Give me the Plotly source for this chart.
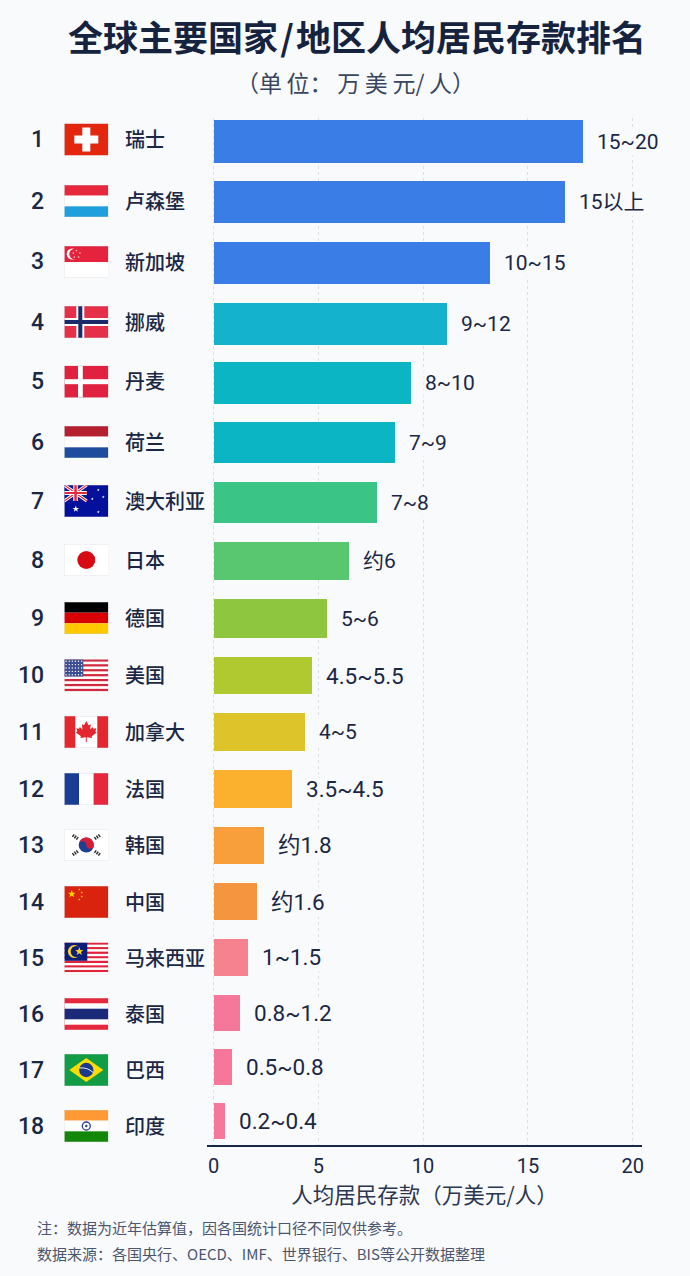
import math
import plotly.graph_objects as go

# Datos
rank = list(range(1, 19))
countries = ['瑞士', '卢森堡', '新加坡', '挪威', '丹麦', '荷兰', '澳大利亚', '日本', '德国',
             '美国', '加拿大', '法国', '韩国', '中国', '马来西亚', '泰国', '巴西', '印度']
codes = ['ch', 'lu', 'sg', 'no', 'dk', 'nl', 'au', 'jp', 'de',
         'us', 'ca', 'fr', 'kr', 'cn', 'my', 'th', 'br', 'in']
deposits = [17.64, 16.75, 13.19, 11.14, 9.42, 8.66, 7.80, 6.46, 5.41,
            4.68, 4.35, 3.76, 2.42, 2.07, 1.66, 1.25, 0.90, 0.56]
value_labels = ['15~20', '15以上', '10~15', '9~12', '8~10', '7~9', '7~8', '约6', '5~6',
                '4.5~5.5', '4~5', '3.5~4.5', '约1.8', '约1.6', '1~1.5', '0.8~1.2', '0.5~0.8', '0.2~0.4']
x_ticks = [0, 5, 10, 15, 20]

# Estilo: el eje y esta en pixeles de la pagina porque las filas no son regulares
bar_colors = ['#3a7de6', '#3a7de6', '#3a7de6', '#14b2cc', '#0cb5c4', '#0cb5c4', '#3ac486', '#58c76f', '#8fc63f',
              '#b1c930', '#dcc42a', '#fbb12e', '#f89e3a', '#f6953f', '#f6828f', '#f5789a', '#f5789a', '#f5789a']
bar_y = [141.7, 202.2, 263, 324, 383, 442.8, 502.5, 561, 618.7,
         675.7, 732, 789, 845.3, 901.7, 957.3, 1013, 1067, 1121]
bar_h = [42.5, 42.5, 42.5, 42, 41.4, 41, 40.4, 38.6, 38.7,
         37.3, 37.4, 37.7, 37.3, 36.7, 36.7, 36.6, 36.3, 36]
row_y = [139.5, 201, 262, 322, 381.7, 442, 501, 560, 618,
         675.3, 732, 789, 845, 902, 958.5, 1014, 1070, 1126]

W, H = 690, 1276
L, R = 207, 642
TOP, BOTTOM = 118, 1145
PX_PER_UNIT = 20.96
INK = '#1a2745'
BG = '#f9fafc'
FONT = 'Roboto, "Noto Sans CJK SC", sans-serif'
CJK = '"Noto Sans CJK SC", sans-serif'


def star(cx, cy, r, fill):
    pts = []
    for i in range(10):
        a = -math.pi / 2 + i * math.pi / 5
        rr = r if i % 2 == 0 else r * 0.4
        pts.append(f'{cx + rr * math.cos(a):.2f},{cy + rr * math.sin(a):.2f}')
    return f'<polygon points="{" ".join(pts)}" fill="{fill}"/>'


def rect(x, y, w, h, fill):
    return f'<rect x="{x}" y="{y}" width="{w}" height="{h}" fill="{fill}"/>'


def bands(*cols):
    h = 32 / len(cols)
    return ''.join(rect(0, i * h, 44, h, c) for i, c in enumerate(cols))


def stripes(a, b, n):
    h = 32 / n
    return ''.join(rect(0, i * h, 44, h, a if i % 2 == 0 else b) for i in range(n))


def us_canton():
    s = rect(0, 0, 19, 17.2, '#3c4f92')
    for r in range(5):
        for c in range(6):
            s += f'<circle cx="{1.8 + c * 3.1}" cy="{1.9 + r * 3.4}" r="0.7" fill="#fff"/>'
    return s


def trigram(cx, cy, ang):
    s = f'<g transform="rotate({ang} {cx} {cy})">'
    for dy in (-2.4, 0, 2.4):
        s += rect(cx - 1.6, cy + dy - 0.7, 3.2, 1.4, '#222')
    return s + '</g>'


union = (rect(0, 0, 22.5, 16, '#0b1a8f')
         + '<path d="M0 0L22.5 16M22.5 0L0 16" stroke="#fff" stroke-width="3"/>'
         + '<path d="M0 0L22.5 16M22.5 0L0 16" stroke="#e6283c" stroke-width="1.1"/>'
         + rect(9, 0, 4.5, 16, '#fff') + rect(0, 6, 22.5, 4, '#fff')
         + rect(10, 0, 2.5, 16, '#e6283c') + rect(0, 7, 22.5, 2, '#e6283c'))
leaf = ('<path d="M22 5L24.3 9.2L26.5 8.2L25.8 13.4L28.5 11L29.2 12.8L32 12.2L31 15.6L32.4 16.4L27.4 20.2'
        'L27.9 22L22.5 21.3V26H21.5V21.3L16.1 22L16.6 20.2L11.6 16.4L13 15.6L12 12.2L14.8 12.8L15.5 11'
        'L18.2 13.4L17.5 8.2L19.7 9.2Z" fill="#e4262f"/>')

flags = {
    'ch': rect(0, 0, 44, 32, '#e3270f') + rect(18, 4, 8, 24, '#fff') + rect(10, 12, 24, 8, '#fff'),
    'lu': bands('#e6283c', '#fff', '#1f9fdc'),
    'sg': bands('#e6233c', '#fff') + '<circle cx="8" cy="8" r="5.6" fill="#fff"/><circle cx="10.2" cy="8" r="5.2" fill="#e6233c"/>'
          + ''.join(star(x, y, 1.1, '#fff') for x, y in [(12, 4.6), (15.6, 7), (14.4, 11), (10, 11), (9, 7)]),
    'no': rect(0, 0, 44, 32, '#e6304a') + rect(12, 0, 8, 32, '#fff') + rect(0, 12, 44, 8, '#fff')
          + rect(14, 0, 4, 32, '#1b2a6b') + rect(0, 14, 44, 4, '#1b2a6b'),
    'dk': rect(0, 0, 44, 32, '#e0213f') + rect(13.7, 0, 4.8, 32, '#fff') + rect(0, 13.5, 44, 5, '#fff'),
    'nl': bands('#b5202f', '#fff', '#1f4d9e'),
    'au': rect(0, 0, 44, 32, '#03109b') + union + star(11.5, 24, 3.4, '#fff')
          + ''.join(star(x, y, 1.5, '#fff') for x, y in [(34, 5), (39, 12), (28, 14), (34, 27)]),
    'jp': rect(0, 0, 44, 32, '#fff') + '<circle cx="22" cy="16" r="9" fill="#d60a12"/>',
    'de': bands('#000', '#d80000', '#ffc800'),
    'us': stripes('#d2293f', '#fff', 13) + us_canton(),
    'ca': rect(0, 0, 44, 32, '#fff') + rect(0, 0, 11, 32, '#e4262f') + rect(33, 0, 11, 32, '#e4262f') + leaf,
    'fr': rect(0, 0, 14.7, 32, '#1a3d94') + rect(14.7, 0, 14.6, 32, '#fff') + rect(29.3, 0, 14.7, 32, '#e6283c'),
    'kr': rect(0, 0, 44, 32, '#fff') + '<circle cx="22" cy="16" r="7.6" fill="#1e3f94"/>'
          + '<path d="M14.4 16A7.6 7.6 0 0 1 29.6 16A3.8 3.8 0 0 1 22 16A3.8 3.8 0 0 0 14.4 16Z" fill="#d81e36"/>'
          + trigram(11, 8, -55) + trigram(33, 8, 55) + trigram(11, 24, 55) + trigram(33, 24, -55),
    'cn': rect(0, 0, 44, 32, '#d9230f') + star(7.5, 8, 4, '#ffd800')
          + ''.join(star(x, y, 1.2, '#ffd800') for x, y in [(15, 3.5), (17.5, 6.5), (17.5, 10.5), (15, 13.5)]),
    'my': stripes('#e0243a', '#fff', 14) + rect(0, 0, 23, 18.3, '#0b1f7a')
          + '<circle cx="10" cy="9" r="6.4" fill="#ffd21f"/><circle cx="12" cy="9" r="5.6" fill="#0b1f7a"/>'
          + star(15, 9, 4.4, '#ffd21f'),
    'th': rect(0, 0, 44, 32, '#e6283c') + rect(0, 5.3, 44, 21.4, '#fff') + rect(0, 10.7, 44, 10.6, '#1b2a78'),
    'br': rect(0, 0, 44, 32, '#119c45') + '<polygon points="22,4 39,16 22,28 5,16" fill="#ffdc00"/>'
          + '<circle cx="22" cy="16" r="7.2" fill="#1a3a8f"/>'
          + '<path d="M15.2 14Q23 13 28.8 18.5" stroke="#fff" stroke-width="0.9" fill="none"/>',
    'in': bands('#ff9933', '#fff', '#138808') + '<circle cx="22" cy="16" r="4" fill="none" stroke="#2b3f9e" stroke-width="1.3"/>'
          + '<circle cx="22" cy="16" r="1.2" fill="#2b3f9e"/>',
}


def flag_uri(code):
    svg = ('<svg xmlns="http://www.w3.org/2000/svg" width="176" height="128" viewBox="0 0 44 32">'
           + flags[code] + '<rect x="0.15" y="0.15" width="43.7" height="31.7" fill="none" stroke="#c9ccd3" stroke-width="0.3"/></svg>')
    return 'data:image/svg+xml;utf8,' + svg.replace('#', '%23').replace('"', "'")


def px_x(px):
    return (px - L) / (R - L)


def px_y(px):
    return (BOTTOM - px) / (BOTTOM - TOP)


fig = go.Figure(go.Bar(x=deposits, y=bar_y, width=bar_h, orientation='h',
                       marker=dict(color=bar_colors, line=dict(width=0)), hoverinfo='skip'))

annotations = []


def add_text(text, x, y, size, color=INK, anchor='left', family=FONT, weight=400):
    annotations.append(dict(text=text, x=px_x(x), y=px_y(y), xref='paper', yref='paper', xanchor=anchor,
                            yanchor='middle', showarrow=False, align=anchor,
                            font=dict(size=size, color=color, family=family, weight=weight)))


add_text('全球主要国家\u200a/\u200a地区人均居民存款排名', 357, 35, 35, '#15233f', 'center', CJK, 700)
add_text('（单\u2009位：\u2009万\u2009美\u2009元/\u2009人）', 355, 82, 23, '#3a4660', 'center', CJK)
add_text('注：数据为近年估算值，因各国统计口径不同仅供参考。', 35, 1227, 15, '#4a5670', 'left', CJK)
add_text('数据来源：各国央行、OECD、IMF、世界银行、BIS等公开数据整理', 35, 1253, 15, '#4a5670', 'left', CJK)

images = []
for i in range(len(rank)):
    add_text(str(rank[i]), 46, row_y[i], 23, INK, 'right', FONT, 500)
    add_text(countries[i], 123, row_y[i] - 1, 20, INK, 'left', CJK, 500)
    # los rotulos con punto son mas anchos en la imagen
    label_size = 22.5 if '.' in value_labels[i] else 21
    annotations.append(dict(text=value_labels[i], x=deposits[i], y=bar_y[i], xanchor='left', yanchor='middle',
                            xshift=12, showarrow=False, bgcolor=BG, font=dict(size=label_size, color=INK, family=FONT)))
    images.append(dict(source=flag_uri(codes[i]), xref='paper', yref='paper', x=px_x(64.3), y=px_y(row_y[i] - 16),
                       sizex=44 / (R - L), sizey=32 / (BOTTOM - TOP), xanchor='left', yanchor='top',
                       sizing='stretch', layer='above'))

fig.update_layout(
    width=W, height=H, autosize=False, showlegend=False,
    margin=dict(l=L, r=W - R, t=TOP, b=H - BOTTOM, pad=0),
    paper_bgcolor=BG, plot_bgcolor=BG,
    annotations=annotations, images=images, bargap=0,
    xaxis=dict(range=[(L - 213.5) / PX_PER_UNIT, (R - 213.5) / PX_PER_UNIT], tickvals=x_ticks,
               showgrid=True, gridcolor='#dcdfe6', griddash='3px,3px', gridwidth=1, zeroline=False,
               showline=True, linecolor='#1a2745', linewidth=2, ticks='outside', ticklen=2, tickcolor=BG,
               tickfont=dict(size=20, color=INK, family=FONT),
               title=dict(text='人均居民存款（万美元/人）', font=dict(size=21.5, color='#2a3652', family=CJK), standoff=7)),
    yaxis=dict(range=[BOTTOM, TOP], visible=False),
)

fig.write_html("out.html", config={'displayModeBar': False}, post_script="document.body.style.margin='0';")
